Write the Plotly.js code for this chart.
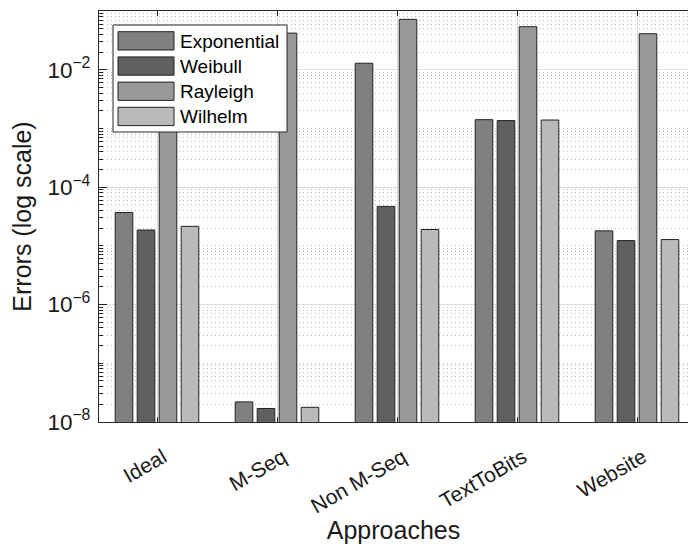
<!DOCTYPE html>
<html><head><meta charset="utf-8">
<script src="https://cdn.plot.ly/plotly-3.0.1.min.js"></script>
<style>html,body{margin:0;padding:0;background:#fff}#chart{width:688px;height:544px}</style>
</head><body><div id="chart"></div>
<script>
const categories = ['Ideal', 'M-Seq', 'Non M-Seq', 'TextToBits', 'Website'];
const seriesNames = ['Exponential', 'Weibull', 'Rayleigh', 'Wilhelm'];
const exponential = [3.7e-5, 2.2e-8, 1.29e-2, 1.41e-3, 1.8e-5];
const weibull     = [1.86e-5, 1.7e-8, 4.7e-5, 1.36e-3, 1.23e-5];
const rayleigh    = [3.0e-2, 4.2e-2, 7.2e-2, 5.4e-2, 4.1e-2];
const wilhelm     = [2.15e-5, 1.78e-8, 1.9e-5, 1.39e-3, 1.28e-5];
const seriesColors = ['#808080', '#606060', '#999999', '#bababa'];

const seriesValues = [exponential, weibull, rayleigh, wilhelm];
const FONT = 'Liberation Sans, Arial, Helvetica, sans-serif';

const traces = seriesNames.map((name, i) => ({
  type: 'bar',
  name: name,
  x: categories,
  y: seriesValues[i],
  marker: {color: seriesColors[i], line: {color: '#222222', width: 1}},
  showlegend: false,
  hoverinfo: 'x+y+name'
}));

// plot area in pixels
const L = 99, T = 11, W = 589, H = 411;
const px = x => (x - L) / W;
const py = y => 1 - (y - T) / H;

const shapes = [{
  type: 'rect', xref: 'paper', yref: 'paper', layer: 'above',
  x0: px(113), x1: px(287), y0: py(132), y1: py(25),
  fillcolor: '#ffffff', line: {color: '#262626', width: 1}
}];
const annotations = [];
seriesNames.forEach((name, i) => {
  const top = 31.7 + i * 25.2;
  shapes.push({
    type: 'rect', xref: 'paper', yref: 'paper', layer: 'above',
    x0: px(118), x1: px(174), y0: py(top + 18.3), y1: py(top),
    fillcolor: seriesColors[i], line: {color: '#222222', width: 1}
  });
  annotations.push({
    xref: 'paper', yref: 'paper', x: px(178), y: py(top + 9.5),
    xanchor: 'left', yanchor: 'middle', showarrow: false,
    text: name, font: {family: FONT, size: 19, color: '#000000'}
  });
});

const layout = {
  width: 688, height: 544,
  margin: {l: L, r: 688 - L - W, t: T, b: 544 - T - H},
  paper_bgcolor: '#ffffff', plot_bgcolor: '#ffffff',
  font: {family: FONT, size: 19, color: '#1a1a1a'},
  barmode: 'group', bargap: 0.267, bargroupgap: 0.2,
  xaxis: {
    type: 'category',
    range: [-58 / 120, -58 / 120 + W / 120],
    tickangle: -30,
    ticks: 'inside', ticklen: 5, tickcolor: '#262626',
    ticklabelstandoff: 14, ticklabelshift: 6,
    showline: true, linecolor: '#262626', linewidth: 1, mirror: 'ticks',
    showgrid: true, gridcolor: '#dedede', gridwidth: 1,
    tickfont: {family: FONT, size: 21, color: '#1a1a1a'},
    title: {text: 'Approaches', font: {family: FONT, size: 25, color: '#1a1a1a'}, standoff: 6},
    automargin: false
  },
  yaxis: {
    type: 'log',
    range: [-8, -1],
    dtick: 2,
    exponentformat: 'power', showexponent: 'all',
    ticks: 'inside', ticklen: 8, tickcolor: '#262626',
    ticklabelstandoff: 4,
    showline: true, linecolor: '#262626', linewidth: 1, mirror: false,
    showgrid: true, gridcolor: '#dedede', gridwidth: 1,
    zeroline: false,
    minor: {dtick: 'D1', ticks: 'inside', ticklen: 4, tickcolor: '#262626',
            showgrid: true, gridcolor: '#bdbdbd', griddash: '1px,3px', gridwidth: 1},
    tickfont: {family: FONT, size: 18, color: '#1a1a1a'},
    title: {text: 'Errors (log scale)', font: {family: FONT, size: 25, color: '#1a1a1a'}, standoff: 8},
    automargin: false
  },
  shapes: shapes,
  annotations: annotations
};

Plotly.newPlot('chart', traces, layout, {displayModeBar: false, staticPlot: true});
</script>
</body></html>
